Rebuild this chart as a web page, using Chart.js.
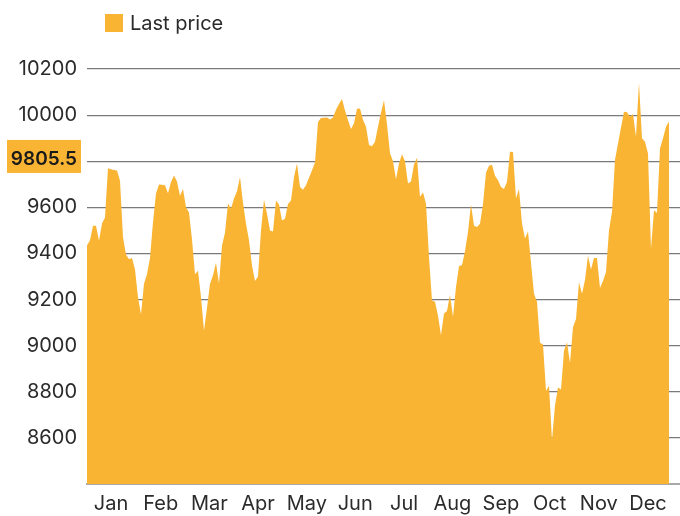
<!DOCTYPE html>
<html>
<head>
<meta charset="utf-8">
<script src="https://cdn.jsdelivr.net/npm/chart.js@4.4.0/dist/chart.umd.min.js"></script>
<style>
  html, body { margin: 0; padding: 0; background: #fff; }
  #wrap { width: 680px; height: 516px; }
</style>
</head>
<body>
<div id="wrap"><canvas id="priceChart" width="680" height="516"></canvas></div>
<script>
// Series + axis data
const seriesName = 'Last price';
const lastPrice = 9805.5;
const monthLabels = ['Jan', 'Feb', 'Mar', 'Apr', 'May', 'Jun', 'Jul', 'Aug', 'Sep', 'Oct', 'Nov', 'Dec'];
const monthTickPos = [8, 24.6, 40.8, 57, 73.3, 89.4, 105.7, 121.8, 138, 154.2, 170.6, 187];
const yTickValues = [8400, 8600, 8800, 9000, 9200, 9400, 9600, 9800, 10000, 10200];
const hiddenYLabels = [8400, 9800];
const prices = [
    9435, 9457, 9520, 9520, 9455, 9530, 9556, 9770, 9765, 9762,
    9760, 9715, 9470, 9395, 9375, 9380, 9330, 9210, 9135, 9269,
    9310, 9380, 9535, 9660, 9699, 9698, 9696, 9661, 9710, 9738,
    9712, 9650, 9680, 9600, 9578, 9460, 9310, 9325, 9210, 9065,
    9165, 9268, 9305, 9360, 9270, 9435, 9490, 9618, 9594, 9638,
    9670, 9732, 9620, 9529, 9457, 9348, 9280, 9300, 9500, 9633,
    9572, 9500, 9495, 9630, 9612, 9543, 9550, 9615, 9630, 9732,
    9790, 9688, 9676, 9696, 9728, 9760, 9795, 9970, 9987, 9989,
    9990, 9981, 9990, 10023, 10048, 10070, 10020, 9978, 9940, 9965,
    10028, 10029, 9980, 9949, 9870, 9865, 9885, 9949, 10010, 10065,
    9960, 9835, 9800, 9722, 9790, 9830, 9800, 9703, 9712, 9786,
    9815, 9645, 9665, 9616, 9384, 9196, 9190, 9130, 9045, 9140,
    9150, 9220, 9125, 9254, 9345, 9350, 9410, 9493, 9612, 9520,
    9515, 9529, 9615, 9750, 9780, 9785, 9737, 9717, 9688, 9680,
    9710, 9841, 9840, 9638, 9680, 9530, 9465, 9495, 9360, 9225,
    9190, 9013, 9005, 8803, 8826, 8590, 8740, 8819, 8810, 8978,
    9015, 8925, 9080, 9116, 9275, 9225, 9285, 9390, 9330, 9380,
    9380, 9250, 9281, 9319, 9500, 9580, 9805, 9877, 9945, 10015,
    10012, 9993, 10005, 9906, 10140, 9900, 9885, 9833, 9420, 9587,
    9575, 9855, 9900, 9950, 9972
];

const FILL = '#F8B432';
const TEXT = '#2b2b2b';
const FONT = 'Inter, "Liberation Sans", Arial, sans-serif';

// legend square + text, and the last-price tag on the y axis
const overlayPlugin = {
    id: 'overlay',
    afterDraw(chart) {
        const ctx = chart.ctx;
        ctx.save();
        ctx.fillStyle = FILL;
        ctx.fillRect(105, 14, 18, 18);
        ctx.fillStyle = TEXT;
        ctx.font = '20px ' + FONT;
        ctx.textBaseline = 'middle';
        ctx.textAlign = 'left';
        ctx.fillText(chart.data.datasets[0].label, 130, 24);

        const y = chart.scales.y.getPixelForValue(lastPrice);
        ctx.fillStyle = FILL;
        ctx.fillRect(7, y - 20, 74, 33);
        ctx.fillStyle = '#1a1a1a';
        ctx.font = '600 19px ' + FONT;
        ctx.textAlign = 'right';
        ctx.fillText(lastPrice.toFixed(1), 77, y - 1);
        ctx.restore();
    }
};

const ctx = document.getElementById('priceChart');
new Chart(ctx, {
    type: 'line',
    data: {
        datasets: [{
            label: seriesName,
            data: prices.map((v, i) => ({ x: i, y: v })),
            borderWidth: 0,
            borderColor: FILL,
            backgroundColor: FILL,
            fill: 'start',
            pointRadius: 0,
            tension: 0
        }]
    },
    options: {
        responsive: false,
        animation: false,
        layout: { padding: { top: 69, right: 0, left: 0, bottom: 0 } },
        plugins: {
            legend: { display: false },
            tooltip: { enabled: false }
        },
        scales: {
            x: {
                type: 'linear',
                min: 0,
                max: 197.67,
                grid: { display: false },
                border: { color: '#a9a9a9', width: 2 },
                afterBuildTicks: (axis) => {
                    axis.ticks = monthTickPos.map(v => ({ value: v }));
                },
                afterFit: (axis) => { axis.height = 32; },
                ticks: {
                    autoSkip: false,
                    maxRotation: 0,
                    padding: 0,
                    color: TEXT,
                    font: { family: FONT, size: 20 },
                    callback: (value, index) => monthLabels[index]
                }
            },
            y: {
                min: 8400,
                max: 10200,
                border: { display: false },
                grid: {
                    drawTicks: false,
                    color: (c) => c.tick && c.tick.value === 8400 ? 'rgba(0,0,0,0)' : '#7a7a7a',
                    lineWidth: 1.2
                },
                afterBuildTicks: (axis) => {
                    axis.ticks = yTickValues.map(v => ({ value: v }));
                },
                afterFit: (axis) => { axis.width = 87; },
                ticks: {
                    padding: 10,
                    color: TEXT,
                    font: { family: FONT, size: 20 },
                    callback: (value) => hiddenYLabels.includes(value) ? '' : String(value)
                }
            }
        }
    },
    plugins: [overlayPlugin]
});
</script>
</body>
</html>
